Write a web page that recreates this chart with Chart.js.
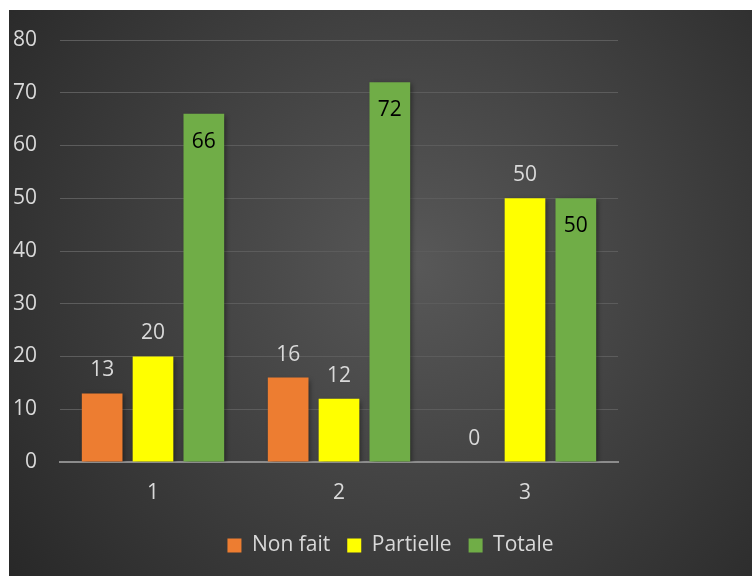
<!DOCTYPE html>
<html>
<head>
<meta charset="utf-8">
<script src="https://cdn.jsdelivr.net/npm/chart.js@4/dist/chart.umd.min.js"></script>
<style>
  html, body { margin: 0; padding: 0; background: #ffffff; }
  #wrap { position: absolute; left: 9px; top: 10px; width: 743px; height: 566px; }
</style>
</head>
<body>
<div id="wrap"><canvas id="c" width="743" height="566"></canvas></div>
<script>
const categories = ['1', '2', '3'];
const nonFait = [13, 16, 0];
const partielle = [20, 12, 50];
const totale = [66, 72, 50];
const yTicks = [0, 10, 20, 30, 40, 50, 60, 70, 80];

const FONT = '"Open Sans", "Liberation Sans", sans-serif';
const TEXT = '#d9d9d9';
const FS = 21;

// Dark radial backdrop behind the whole canvas
const backdrop = {
  id: 'backdrop',
  beforeDraw(chart) {
    const { ctx, width, height } = chart;
    const g = ctx.createRadialGradient(width * 0.55, height * 0.45, 0, width * 0.55, height * 0.45, Math.max(width, height) * 0.72);
    g.addColorStop(0, '#585858');
    g.addColorStop(1, '#262626');
    ctx.save();
    ctx.fillStyle = g;
    ctx.fillRect(0, 0, width, height);
    ctx.restore();
  }
};

// Soft shadow under the bars
const barShadow = {
  id: 'barShadow',
  beforeDatasetsDraw(chart) {
    const ctx = chart.ctx;
    ctx.save();
    ctx.shadowColor = 'rgba(0,0,0,0.45)';
    ctx.shadowBlur = 5;
    ctx.shadowOffsetX = 2;
    ctx.shadowOffsetY = 2;
  },
  afterDatasetsDraw(chart) {
    chart.ctx.restore();
  }
};

// Center the legend on the whole canvas rather than the area left of the gutter
const legendCenter = {
  id: 'legendCenter',
  afterLayout(chart) {
    if (chart.legend) chart.legend.left += 20;
  }
};

// Value labels: above the bar for the first two series, inside the top for the last
const valueLabels = {
  id: 'valueLabels',
  afterDatasetsDraw(chart) {
    const ctx = chart.ctx;
    ctx.save();
    ctx.font = FS + 'px ' + FONT;
    ctx.textAlign = 'center';
    ctx.textBaseline = 'middle';
    chart.data.datasets.forEach((ds, di) => {
      const meta = chart.getDatasetMeta(di);
      meta.data.forEach((bar, i) => {
        const v = ds.data[i];
        if (di === 2) {
          ctx.fillStyle = '#000000';
          ctx.fillText(String(v), bar.x, bar.y + 28);
        } else {
          ctx.fillStyle = TEXT;
          ctx.fillText(String(v), bar.x, bar.y - 23);
        }
      });
    });
    ctx.restore();
  }
};

function noVerticalPadding(scale) {
  scale.paddingTop = 0;
  scale.paddingBottom = 0;
}

new Chart(document.getElementById('c'), {
  type: 'bar',
  data: {
    labels: categories,
    datasets: [
      { label: 'Non fait', data: nonFait, backgroundColor: '#ED7D31' },
      { label: 'Partielle', data: partielle, backgroundColor: '#FFFF00' },
      { label: 'Totale', data: totale, backgroundColor: '#70AD47' }
    ]
  },
  options: {
    responsive: false,
    animation: false,
    devicePixelRatio: 1,
    layout: { padding: { left: 0, right: 0, top: 30, bottom: 10 } },
    datasets: { bar: { categoryPercentage: 0.82, barPercentage: 0.8 } },
    scales: {
      x: {
        grid: { display: false, drawTicks: false },
        border: { display: true, color: '#8c8c8c', width: 2 },
        ticks: { color: TEXT, font: { family: FONT, size: FS }, padding: 18 },
        afterFit(scale) { scale.height = 56; }
      },
      y: {
        min: 0, max: 80,
        afterBuildTicks(scale) { scale.ticks = yTicks.map(v => ({ value: v })); },
        grid: { color: '#5c5c5c', lineWidth: 1, drawTicks: false },
        border: { display: false },
        ticks: { color: TEXT, font: { family: FONT, size: FS }, padding: 23 },
        afterFit(scale) { scale.width = 51; noVerticalPadding(scale); }
      },
      // empty right-hand gutter so the plot stops short of the right edge
      gutter: {
        type: 'linear',
        position: 'right',
        display: true,
        grid: { display: false, drawTicks: false },
        border: { display: false },
        ticks: { display: false },
        afterFit(scale) { scale.width = 134; noVerticalPadding(scale); }
      }
    },
    plugins: {
      legend: {
        position: 'bottom',
        labels: {
          color: TEXT,
          font: { family: FONT, size: FS },
          boxWidth: 14, boxHeight: 14,
          padding: 17
        }
      },
      tooltip: { enabled: false }
    }
  },
  plugins: [backdrop, barShadow, legendCenter, valueLabels]
});
</script>
</body>
</html>
